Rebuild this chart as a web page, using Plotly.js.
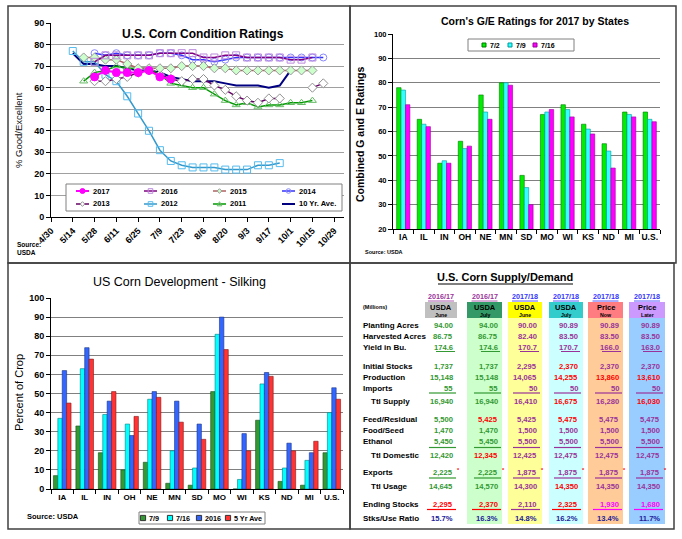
<!DOCTYPE html>
<html><head><meta charset="utf-8">
<script src="https://cdn.plot.ly/plotly-3.0.1.min.js"></script>
<style>html,body{margin:0;padding:0;background:#fff}#chart{width:682px;height:539px}</style>
</head><body><div id="chart"></div>
<script>
// ================= DATA =================
// Panel 1: U.S. Corn Condition Ratings (% good/excellent), weekly
const weekLabels = ['4/30','5/7','5/14','5/21','5/28','6/4','6/11','6/18','6/25','7/2','7/9','7/16','7/23','7/30','8/6','8/13','8/20','8/27','9/3','9/10','9/17','9/24','10/1','10/8','10/15','10/22','10/29'];
const n = null;
const cond2017 = [n,n,n,n,65,68,67,67,67,68,65,64,n,n,n,n,n,n,n,n,n,n,n,n,n,n,n];
const cond2016 = [n,n,n,n,72,75,75,75,75,75,76,76,76,76,74,74,75,75,74,74,74,74,73,73,74,n,n];
const cond2015 = [n,n,n,74,74,73,73,71,69,69,69,69,70,70,70,69,69,68,68,68,68,68,68,68,68,n,n];
const cond2014 = [n,n,n,n,76,75,76,75,75,75,76,76,75,73,73,72,73,74,74,74,74,74,74,74,74,74,n];
const cond2013 = [n,n,n,n,63,63,64,65,67,68,66,64,63,64,64,61,59,56,54,53,55,55,n,n,60,62,n];
const cond2012 = [n,n,77,72,72,66,63,56,48,40,31,26,24,23,23,23,22,22,22,24,24,25,n,n,n,n,n];
const cond2011 = [n,n,n,63,67,68,70,69,69,69,66,62,61,60,60,57,54,52,53,51,52,52,53,53,54,n,n];
const cond10yr = [n,n,76,71,71,70,70,69,68,68,67,65,64,63,63,63,62,61,61,61,60,61,68,n,n,n,n];

// Panel 2: Corn's G/E ratings for 2017 by states
const geStates = ['IA','IL','IN','OH','NE','MN','SD','MO','WI','KS','ND','MI','U.S.'];
const geDates = ['7/2','7/9','7/16'];
const ge0702 = [78,65,47,56,75,80,42,67,71,63,55,68,68];
const ge0709 = [77,63,48,53,68,80,37,68,69,61,52,67,65];
const ge0716 = [71,62,47,54,65,79,30,69,66,59,45,66,64];

// Panel 3: US corn development - silking (% of crop)
const silkStates = ['IA','IL','IN','OH','NE','MN','SD','MO','WI','KS','ND','MI','U.S.'];
const silkNames = ['7/9','7/16','2016','5 Yr Ave'];
const silk0709 = [7,33,19,10,14,3,2,51,0,36,4,2,19];
const silk0716 = [37,63,39,34,47,20,11,81,5,55,11,15,40];
const silk2016 = [62,74,46,28,51,46,34,90,29,61,24,19,53];
const silk5yr = [45,68,51,38,48,35,26,73,20,59,20,25,47];

// Panel 4: U.S. corn supply/demand table
const sdRows = ['Planting Acres','Harvested Acres','Yield in Bu.','Initial Stocks','Production','Imports','Ttl Supply','Feed/Residual','Food/Seed','Ethanol','Ttl Domestic','Exports','Ttl Usage','Ending Stocks','Stks/Use Ratio'];
const sdYears = ['2016/17','2016/17','2017/18','2017/18','2017/18','2017/18'];
const sdSource = ['USDA','USDA','USDA','USDA','Price','Price'];
const sdMonth = ['June','July','June','July','Now','Later'];
const sd1617June = ['94.00','86.75','174.6','1,737','15,148','55','16,940','5,500','1,470','5,450','12,420','2,225','14,645','2,295','15.7%'];
const sd1617July = ['94.00','86.75','174.6','1,737','15,148','55','16,940','5,425','1,470','5,450','12,345','2,225','14,570','2,370','16.3%'];
const sd1718June = ['90.00','82.40','170.7','2,295','14,065','50','16,410','5,425','1,500','5,500','12,425','1,875','14,300','2,110','14.8%'];
const sd1718July = ['90.89','83.50','170.7','2,370','14,255','50','16,675','5,475','1,500','5,500','12,475','1,875','14,350','2,325','16.2%'];
const sd1718Now = ['90.89','83.50','166.0','2,370','13,860','50','16,280','5,475','1,500','5,500','12,475','1,875','14,350','1,930','13.4%'];
const sd1718Later = ['90.89','83.50','163.0','2,370','13,610','50','16,030','5,475','1,500','5,500','12,475','1,875','14,350','1,680','11.7%'];

// ================= STYLE / LAYOUT HELPERS =================
const W = 682, H = 539;
const X = p => p / W, Y = p => 1 - p / H;
const FF = 'Liberation Sans, Arial, Helvetica, sans-serif';
const shapes = [], annotations = [], traces = [];

function txt(x, y, text, size, opts) {
  opts = opts || {};
  annotations.push({xref:'paper', yref:'paper', x:X(x), y:Y(y), text:text, showarrow:false,
    xanchor:opts.xa || 'center', yanchor:opts.ya || 'middle', align:opts.align || 'center',
    textangle:opts.angle || 0,
    font:{family:FF, size:size, color:opts.color || '#000', weight:opts.weight || 'bold'}});
}
function hline(x0, x1, y, color, w) {
  shapes.push({type:'line', xref:'paper', yref:'paper', x0:X(x0), x1:X(x1), y0:Y(y), y1:Y(y), line:{color:color, width:w || 1}});
}
function box(x0, y0, x1, y1, fill, line, lw) {
  shapes.push({type:'rect', xref:'paper', yref:'paper', x0:X(x0), x1:X(x1), y0:Y(y1), y1:Y(y0),
    fillcolor:fill || 'rgba(0,0,0,0)', line:{color:line || 'rgba(0,0,0,0)', width:lw === undefined ? 1 : lw}});
}
function sym(kind, cx, cy, r, fill, stroke) {
  const ln = {color:stroke, width:1};
  if (kind === 'circle' || kind === 'circle-open') {
    shapes.push({type:'circle', xref:'paper', yref:'paper', x0:X(cx-r), x1:X(cx+r), y0:Y(cy+r), y1:Y(cy-r), fillcolor:fill, line:ln});
  } else if (kind === 'square' || kind === 'square-open') {
    box(cx-r, cy-r, cx+r, cy+r, fill, stroke, 1);
  } else {
    let pts;
    if (kind.indexOf('diamond') === 0) pts = [[cx,cy-r],[cx+r,cy],[cx,cy+r],[cx-r,cy]];
    else pts = [[cx,cy-r],[cx+r,cy+r*0.8],[cx-r,cy+r*0.8]];
    const path = 'M' + pts.map(p => X(p[0]) + ',' + Y(p[1])).join('L') + 'Z';
    shapes.push({type:'path', xref:'paper', yref:'paper', path:path, fillcolor:fill, line:ln});
  }
}

// Panel frames
box(8, 6, 350, 263, null, '#404040', 1.5);
box(350, 6, 676, 263, null, '#404040', 1.5);
box(8, 263, 350, 529, null, '#404040', 1.5);
box(350, 263, 674, 529, null, '#404040', 1.5);

// ================= PANEL 1 =================
const weekIdx = weekLabels.map((_, i) => i);
const condSeries = [
  {name:'10 Yr. Ave.', y:cond10yr, line:'#000080', lw:2, sym:null},
  {name:'2011', y:cond2011, line:'#009900', lw:1.5, sym:'triangle-up-open', mc:'#66BB66', mf:'rgba(0,0,0,0)'},
  {name:'2012', y:cond2012, line:'#3399CC', lw:1.5, sym:'square-open', mc:'#55BBEE', mf:'rgba(0,0,0,0)'},
  {name:'2013', y:cond2013, line:'#660066', lw:1.5, sym:'diamond', mc:'#909090', mf:'#FFFFFF'},
  {name:'2014', y:cond2014, line:'#3333FF', lw:1.5, sym:'circle-open', mc:'#8888FF', mf:'rgba(0,0,0,0)'},
  {name:'2015', y:cond2015, line:'#B06060', lw:1.5, sym:'diamond', mc:'#999999', mf:'#CCFFCC'},
  {name:'2016', y:cond2016, line:'#800080', lw:1.5, sym:'square-open', mc:'#BB88DD', mf:'rgba(0,0,0,0)'},
  {name:'2017', y:cond2017, line:'#FF00FF', lw:2, sym:'circle', mc:'#FF00FF', mf:'#FF00FF'}
];
condSeries.forEach(s => {
  const t = {type:'scatter', x:weekIdx, y:s.y, xaxis:'x', yaxis:'y', name:s.name, showlegend:false,
    mode:s.sym ? 'lines+markers' : 'lines', line:{color:s.line, width:s.lw}, connectgaps:false, hoverinfo:'skip'};
  if (s.sym) {
    const base = s.sym.replace('-open', '');
    t.marker = {symbol:base, size:s.sym === 'circle' ? 8 : 7, color:s.mf, line:{color:s.mc, width:1}};
  }
  traces.push(t);
});
txt(203, 34, 'U.S. Corn Condition Ratings', 12);
txt(18, 130, '% Good/Excellent', 9.5, {angle:-90, weight:'normal', color:'#111'});
txt(15, 248, 'Source:<br>USDA', 6.5, {xa:'left', align:'left'});
// legend
box(66, 184, 342, 211, '#FFFFFF', '#808080', 1);
const legOrder = ['2017','2016','2015','2014','2013','2012','2011','10 Yr. Ave.'];
const legColX = [76, 144, 213, 282], legRowY = [191, 204];
legOrder.forEach((nm, k) => {
  const s = condSeries.find(c => c.name === nm);
  const x0 = legColX[k % 4], y0 = legRowY[Math.floor(k / 4)];
  hline(x0, x0 + 13, y0, s.line, s.lw);
  if (s.sym) sym(s.sym, x0 + 6.5, y0, s.sym === 'circle' ? 2.5 : 2.3, s.mf, s.mc);
  txt(x0 + 15, y0, nm, 7.5, {xa:'left'});
});

// ================= PANEL 2 =================
const geVals = [ge0702, ge0709, ge0716];
const geColors = ['#00EE00', '#33FFFF', '#FF00FF'];
const geEdges = ['#007700', '#009999', '#990099'];
const geW = 0.215;
geVals.forEach((v, i) => {
  traces.push({type:'bar', x:geStates, y:v, xaxis:'x2', yaxis:'y2', name:geDates[i], showlegend:false,
    width:geW, offset:-1.5 * geW + i * geW, marker:{color:geColors[i], line:{color:geEdges[i], width:0.6}}, hoverinfo:'skip'});
});
txt(535, 21, "Corn's G/E Ratings for 2017 by States", 10.5);
txt(360, 134, 'Combined G and E Ratings', 10.5, {angle:-90});
txt(363, 252, 'Source: USDA', 5.5, {xa:'left'});
box(468, 39, 574, 51, '#FFFFFF', '#808080', 1);
const geLegX = [484, 510, 535];
geDates.forEach((d, i) => {
  sym('square', geLegX[i], 45, 2, geColors[i], geEdges[i]);
  txt(geLegX[i] + 4, 45, d, 7, {xa:'left'});
});

// ================= PANEL 3 =================
const silkVals = [silk0709, silk0716, silk2016, silk5yr];
const silkColors = ['#339933', '#00FFFF', '#3366FF', '#FF3333'];
const silkEdges = ['#1A4D1A', '#008080', '#1A3380', '#801A1A'];
const sW = 0.196;
silkVals.forEach((v, i) => {
  traces.push({type:'bar', x:silkStates, y:v, xaxis:'x3', yaxis:'y3', name:silkNames[i], showlegend:false,
    width:sW, offset:-2 * sW + i * sW, marker:{color:silkColors[i], line:{color:silkEdges[i], width:0.6}}, hoverinfo:'skip'});
});
txt(179, 282, 'US Corn Development - Silking', 12.5, {weight:'normal'});
txt(19, 393, 'Percent of Crop', 11, {angle:-90, weight:'normal'});
txt(25, 516, 'Source: USDA', 7.5, {xa:'left'});
box(139, 512, 265, 524, '#FFFFFF', '#808080', 1);
const silkLegX = [143, 170, 199, 228];
silkNames.forEach((nm, i) => {
  sym('square', silkLegX[i], 518, 2.6, silkColors[i], '#333');
  txt(silkLegX[i] + 4, 518, nm, 7.2, {xa:'left'});
});

// ================= PANEL 4 (table) =================
const sdCols = [sd1617June, sd1617July, sd1718June, sd1718July, sd1718Now, sd1718Later];
const tone = {g:'#339933', p:'#993399', r:'#FF0000', m:'#FF00FF', b:'#22229A'};
const cellTone = ['ggpppp','ggpppp','ggpppp','ggprpp','ggprrr','ggpppp','ggprpr','grprpp','ggpppp','ggpppp','grpppp','ggpppp','ggprpp','rrprmm','bbbbbb'];
const rowY = [325,336,347,366,377,388,401,419,430,441,455,472,486,504,518];
const indentRows = [6, 10, 12];
const colRight = [455, 500, 539, 580, 621, 662];
const colBox = [[425,457],[467,502],[508,542],[549,583],[588,623],[629,665]];
const headFill = ['#C0C0C0','#339966','#FFFF00','#33CCCC','#FF7C80','#CC99FF'];
const bodyFill = [null,'#CCFFCC','#FFFF99','#CCFFFF','#FFCC99','#99CCFF'];
const yearColor = ['#993399','#993399','#3333FF','#3333FF','#3333FF','#3333FF'];

txt(505, 277, 'U.S. Corn Supply/Demand', 11);
hline(438, 573, 284, '#000', 1);
txt(361, 307, '(Millions)', 5.5, {xa:'left'});
sdCols.forEach((col, c) => {
  const [bx0, bx1] = colBox[c];
  const cx = (bx0 + bx1) / 2;
  if (bodyFill[c]) box(bx0, 318, bx1, 524, bodyFill[c], null, 0);
  box(bx0, 302, bx1, 318, headFill[c], null, 0);
  txt(cx, 296, sdYears[c], 7.2, {color:yearColor[c]});
  hline(cx - 13, cx + 13, 301, yearColor[c], 0.8);
  txt(cx, 307.5, sdSource[c], 7.5);
  txt(cx, 315, sdMonth[c], 5.2);
});
sdRows.forEach((lab, r) => {
  txt(indentRows.indexOf(r) >= 0 ? 369 : 361, rowY[r], lab, 8, {xa:'left'});
  sdCols.forEach((col, c) => {
    const colr = tone[cellTone[r][c]];
    txt(colRight[c], rowY[r], col[r], 7.6, {xa:'right', color:colr});
    const grpColor = c < 2 ? tone.g : tone.p;
    if (r === 2) hline(colRight[c] - 19, colRight[c], 351.5, grpColor, 1);
    if (r === 5) hline(colRight[c] - 26, colRight[c] + 1, 393, grpColor, 1.2);
    if (r === 9) hline(colRight[c] - 26, colRight[c] + 1, 447.5, grpColor, 1.2);
    if (r === 11) {
      hline(colRight[c] - 26, colRight[c] + 1, 478, grpColor, 1.2);
      txt(colRight[c] + 3, 469.5, '*', 5.5, {xa:'center', color:'#FF0000'});
    }
    if (r === 13) hline(colRight[c] - 28, colRight[c] + 1, 509.5, colr, 1.2);
  });
});

// ================= LAYOUT =================
const tf = (s) => ({family:FF, size:s, color:'#000', weight:'bold'});
const layout = {
  width:W, height:H, margin:{l:0, r:0, t:0, b:0}, paper_bgcolor:'#fff', plot_bgcolor:'rgba(0,0,0,0)',
  showlegend:false, barmode:'overlay', font:{family:FF},
  xaxis:{domain:[X(51), X(344)], anchor:'y', range:[0, 26.9], tickvals:weekIdx.filter(i => i % 2 === 0),
    ticktext:weekLabels.filter((_, i) => i % 2 === 0), tickangle:-45, ticks:'outside', ticklen:4, tickcolor:'#000',
    showline:true, linecolor:'#000', linewidth:1, showgrid:false, zeroline:false, tickfont:tf(9), fixedrange:true},
  yaxis:{domain:[Y(217), Y(23)], anchor:'x', range:[0, 90], dtick:10, ticks:'outside', ticklen:4, tickcolor:'#000',
    showline:true, linecolor:'#000', gridcolor:'#A0A0A0', zeroline:false, tickfont:tf(9), fixedrange:true},
  xaxis2:{domain:[X(393), X(660)], anchor:'y2', type:'category', range:[-0.5, 12.5], tickson:'boundaries', ticks:'outside', ticklen:4,
    tickangle:0, tickcolor:'#000', showline:true, linecolor:'#000', showgrid:false, tickfont:tf(8.5), fixedrange:true},
  yaxis2:{domain:[Y(229), Y(34)], anchor:'x2', range:[20, 100], dtick:10, ticks:'outside', ticklen:4, tickcolor:'#000',
    showline:true, linecolor:'#000', gridcolor:'#808080', zeroline:false, tickfont:tf(7.5), fixedrange:true},
  xaxis3:{domain:[X(51), X(343)], anchor:'y3', type:'category', range:[-0.5, 12.5], tickson:'boundaries', ticks:'outside', ticklen:4,
    tickangle:0, tickcolor:'#000', showline:true, linecolor:'#000', showgrid:false, tickfont:tf(8), fixedrange:true},
  yaxis3:{domain:[Y(489), Y(298)], anchor:'x3', range:[0, 100], dtick:10, ticks:'outside', ticklen:4, tickcolor:'#000',
    showline:true, linecolor:'#000', gridcolor:'#808080', zeroline:false, tickfont:tf(9), fixedrange:true},
  shapes:shapes, annotations:annotations
};
Plotly.newPlot('chart', traces, layout, {staticPlot:true, displayModeBar:false});
</script></body></html>
